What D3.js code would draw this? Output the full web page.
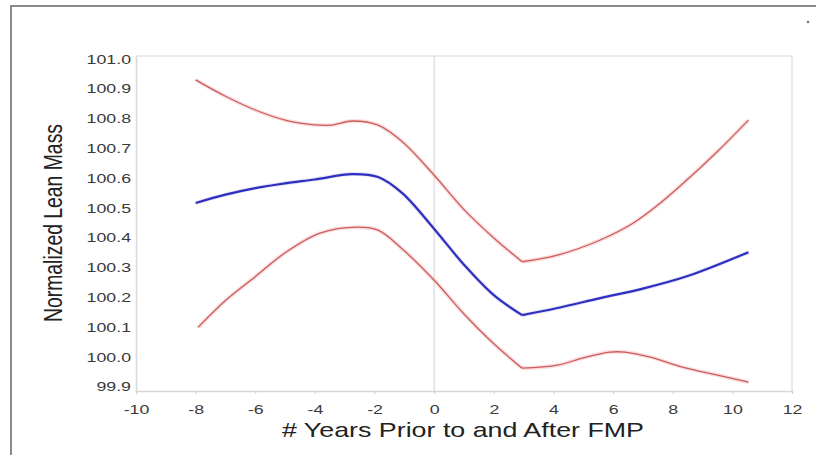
<!DOCTYPE html>
<html><head><meta charset="utf-8">
<script src="https://cdn.jsdelivr.net/npm/d3@7"></script>
<style>html,body{margin:0;padding:0;background:#fff;}svg{display:block;}</style>
</head><body>
<svg id="chart" width="816" height="455"></svg>
<script>
// ---- data ----
const meanX  = [-8, -7, -6, -5, -4, -2.75, -1.88, -1.07, 0, 1, 2, 2.95, 4.1, 5.57, 7, 8.5, 10.54];
const meanY  = [100.517, 100.545, 100.567, 100.583, 100.596, 100.614, 100.604, 100.55, 100.43, 100.31, 100.208, 100.141, 100.164, 100.198, 100.23, 100.272, 100.352];
const upperX = [-8, -7, -6, -5, -4.5, -3.5, -2.75, -1.88, -1.04, 0, 1, 2, 2.95, 4.13, 5.57, 6.68, 7.5, 8.36, 9.5, 10.54];
const upperY = [100.93, 100.875, 100.829, 100.795, 100.785, 100.778, 100.792, 100.778, 100.72, 100.61, 100.495, 100.40, 100.32, 100.342, 100.393, 100.45, 100.51, 100.584, 100.69, 100.795];
const lowerX = [-7.92, -7, -6, -5, -3.83, -2.58, -1.88, -1.04, 0, 1, 2, 2.95, 4.13, 5.0, 5.9, 6.4, 7.25, 8.36, 9.5, 10.54];
const lowerY = [100.10, 100.19, 100.27, 100.35, 100.416, 100.436, 100.426, 100.36, 100.258, 100.145, 100.045, 99.963, 99.973, 99.998, 100.017, 100.017, 100.0, 99.966, 99.94, 99.916];
const xTicks = [-10, -8, -6, -4, -2, 0, 2, 4, 6, 8, 10, 12];
const yTicks = [99.9, 100.0, 100.1, 100.2, 100.3, 100.4, 100.5, 100.6, 100.7, 100.8, 100.9, 101.0];
const kinkX = 2.95;
const xTitle = "# Years Prior to and After FMP";
const yTitle = "Normalized Lean Mass";

const svg = d3.select("#chart");
const L = 136, R = 792, T = 56, B = 391;
const x = d3.scaleLinear().domain([-10, 12]).range([L, R]);
const y = d3.scaleLinear().domain([99.9 - 4/298.18, 101.0 + 3/298.18]).range([B, T]);

// outer frame
svg.append("path").attr("d", "M11,455 L11,6 L816,6")
  .attr("fill", "none").attr("stroke", "#8a8a8a").attr("stroke-width", 2);
svg.append("circle").attr("cx", 808).attr("cy", 22).attr("r", 1.3).attr("fill", "#777");

// plot frame (top/right) and zero line
svg.append("path").attr("d", `M${L},${T} L${R},${T} L${R},${B}`)
  .attr("fill", "none").attr("stroke", "#e4e4e4").attr("stroke-width", 1.5);
svg.append("line").attr("x1", x(0)).attr("x2", x(0)).attr("y1", T).attr("y2", B)
  .attr("stroke", "#dcdcdc").attr("stroke-width", 1.3);

// axes
const stretch = 1.42;
const xAxis = svg.append("g").attr("transform", `translate(0,${B})`)
  .call(d3.axisBottom(x).tickValues(xTicks).tickSize(3).tickPadding(11).tickFormat(d => String(d)));
const yAxis = svg.append("g").attr("transform", `translate(${L},0)`)
  .call(d3.axisLeft(y).tickValues(yTicks).tickSize(0).tickPadding(5).tickFormat(d3.format(".1f")));
[xAxis, yAxis].forEach(g => {
  g.select(".domain").attr("stroke", "#d8d8d8").attr("stroke-width", 1.5);
  g.selectAll(".tick line").attr("stroke", "#d0d0d0");
  g.selectAll("text").attr("font-family", "'Liberation Sans', Arial, sans-serif")
    .attr("font-size", 12.5).attr("fill", "#3a3a3a")
    .each(function(){ const w = this.getComputedTextLength();
      d3.select(this).attr("textLength", w*stretch).attr("lengthAdjust", "spacingAndGlyphs"); });
});

// lines (smooth, split at the sharp minimum)
const line = d3.line().x(d => x(d[0])).y(d => y(d[1])).curve(d3.curveCatmullRom.alpha(0.5));
function pieces(xs, ys) {
  const pts = xs.map((v,i) => [v, ys[i]]);
  const k = xs.indexOf(kinkX);
  return [pts.slice(0, k+1), pts.slice(k)];
}
const bands = [pieces(upperX, upperY), pieces(lowerX, lowerY)];
bands.forEach(ps => ps.forEach(data => {
  svg.append("path").datum(data).attr("d", line).attr("fill", "none")
    .attr("stroke", "#f6c8c8").attr("stroke-width", 4).attr("stroke-opacity", 0.6);
  svg.append("path").datum(data).attr("d", line).attr("fill", "none")
    .attr("stroke", "#cc5c5c").attr("stroke-width", 1.3);
}));
pieces(meanX, meanY).forEach(data => {
  svg.append("path").datum(data).attr("d", line).attr("fill", "none")
    .attr("stroke", "#c8c8f0").attr("stroke-width", 4).attr("stroke-opacity", 0.5);
  svg.append("path").datum(data).attr("d", line).attr("fill", "none")
    .attr("stroke", "#2f2fbf").attr("stroke-width", 2.2).attr("stroke-linejoin", "round");
});

// titles
svg.append("text").attr("x", 463).attr("y", 437).attr("text-anchor", "middle")
  .attr("font-family", "'Liberation Sans', Arial, sans-serif").attr("font-size", 21).attr("fill", "#222")
  .attr("textLength", 362).attr("lengthAdjust", "spacingAndGlyphs").text(xTitle);
svg.append("text").attr("transform", "translate(62,223) rotate(-90)").attr("text-anchor", "middle")
  .attr("font-family", "'Liberation Sans Narrow', 'Liberation Sans', Arial, sans-serif").attr("font-size", 26).attr("fill", "#222")
  .attr("textLength", 198).attr("lengthAdjust", "spacingAndGlyphs").text(yTitle);
</script>
</body></html>
